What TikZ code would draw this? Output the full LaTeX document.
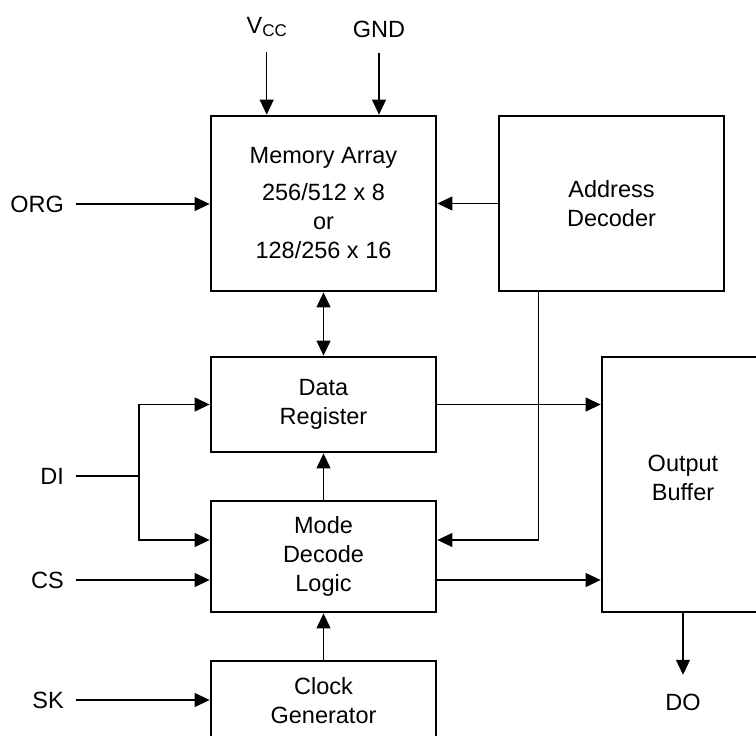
\documentclass[tikz,border=0pt]{standalone}
\usepackage{fontspec}
\setmainfont{Liberation Sans}
\usetikzlibrary{positioning,arrows.meta}
\tikzset{
  >={Triangle[length=15pt,width=14pt]},
  blk/.style  = {draw, line width=2.8pt, align=center, inner sep=0pt, minimum width=225pt, font=\fontsize{23.5}{29}\selectfont},
  lbl/.style  = {inner sep=2pt, font=\fontsize{23.5}{29}\selectfont},
  flow/.style = {->, line width=1.2pt},
  wire/.style = {line width=1.2pt},
}

\begin{document}
\begin{tikzpicture}[x=1pt,y=-1pt]
  \useasboundingbox (0,0) rectangle (756,736);
  % blocks
  \node[blk, minimum height=175pt] (mem) at (323.5,203.5) {Memory Array\\[8pt]256/512 x 8\\or\\128/256 x 16};
  \node[blk, minimum height=175pt] (addr) at (611.5,203.5) {Address\\Decoder};
  \node[blk, minimum height=95pt] (dr) at (323.5,404.5) {Data\\Register};
  \node[blk, minimum height=111pt] (mode) at (323.5,556.5) {Mode\\Decode\\Logic};
  \node[blk, minimum height=80pt] (clk) at (323.5,701) {Clock\\Generator};
  \node[blk, minimum width=162pt, minimum height=255pt, text depth=13pt] (ob) at (683,484.5) {Output\\Buffer};
  % pins
  \node[lbl] (vcc) at (266.7,27) {V\raisebox{-3.5pt}{\fontsize{17}{17}\selectfont CC}};
  \node[lbl] (gnd) at (379,29) {GND};
  \node[lbl, anchor=east] (org) at (66,204) {ORG};
  \node[lbl, anchor=east] (di) at (66,476) {DI};
  \node[lbl, anchor=east] (cs) at (66,580) {CS};
  \node[lbl, anchor=east] (sk) at (66,700) {SK};
  \node[lbl] (do) at (683,702) {DO};
  \coordinate (split) at (139,476);
  % connections
  \draw[flow] ([yshift=-13pt]vcc.south) -- (vcc.south |- mem.north);
  \draw[flow] ([yshift=-13pt]gnd.south) -- (gnd.south |- mem.north);
  \draw[flow] ([xshift=10pt]org.east) -- (org -| mem.west);
  \draw[flow] (addr.west) -- (mem.east);
  \draw[<->, line width=1.2pt] (mem.south) -- (dr.north);
  \draw[flow] (mode.north) -- (dr.south);
  \draw[flow] (clk.north) -- (mode.south);
  \draw[wire] ([xshift=10pt]di.east) -- (split);
  \draw[flow] (split) |- (dr.west);
  \draw[flow] (split) |- ([yshift=16.5pt]mode.west);
  \draw[flow] ([xshift=10pt]cs.east) -- (cs -| mode.west);
  \draw[flow] ([xshift=10pt]sk.east) -- (sk -| clk.west);
  \draw[flow] ([xshift=-73pt]addr.south) |- ([yshift=16.5pt]mode.east);
  \draw[flow] (dr.east) -- (dr.east -| ob.west);
  \draw[flow] ([yshift=-23.5pt]mode.east) -- ([yshift=-23.5pt]mode.east -| ob.west);
  \draw[flow] (ob.south) -- ([yshift=16.7pt]do.north);
\end{tikzpicture}
\end{document}
